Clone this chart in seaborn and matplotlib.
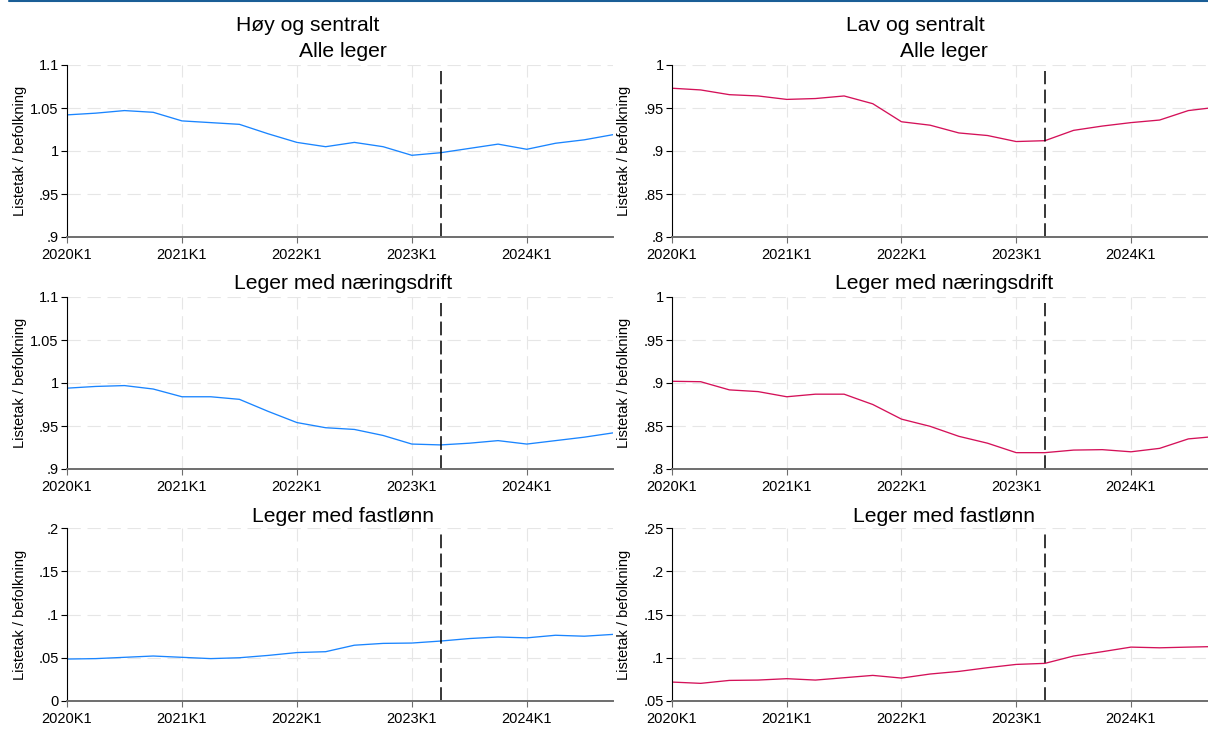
import matplotlib
matplotlib.use("Agg")
import matplotlib.pyplot as plt
import seaborn as sns
import pandas as pd
from matplotlib.lines import Line2D
from matplotlib.ticker import FixedLocator, FuncFormatter

# ---------------- data ----------------
quarters = [f"{y}K{q}" for y in range(2020, 2025) for q in range(1, 5)]
tick_labels = ["2020K1", "2021K1", "2022K1", "2023K1", "2024K1"]

hoy_alle = [1.042, 1.044, 1.047, 1.045, 1.035, 1.033, 1.031, 1.020, 1.010, 1.005,
            1.010, 1.005, 0.995, 0.998, 1.003, 1.008, 1.002, 1.009, 1.013, 1.019]
hoy_naering = [0.994, 0.996, 0.997, 0.993, 0.984, 0.984, 0.981, 0.967, 0.954, 0.948,
               0.946, 0.939, 0.929, 0.928, 0.930, 0.933, 0.929, 0.933, 0.937, 0.942]
hoy_fast = [0.0485, 0.049, 0.0505, 0.052, 0.0505, 0.049, 0.050, 0.0527, 0.056, 0.057,
            0.0645, 0.0666, 0.067, 0.0693, 0.0722, 0.074, 0.073, 0.076, 0.0749, 0.077]

lav_alle = [0.973, 0.971, 0.9655, 0.964, 0.960, 0.961, 0.964, 0.955, 0.934, 0.930,
            0.921, 0.918, 0.911, 0.912, 0.924, 0.929, 0.933, 0.936, 0.947, 0.951]
lav_naering = [0.902, 0.9015, 0.892, 0.890, 0.884, 0.887, 0.887, 0.875, 0.858, 0.8496,
               0.838, 0.830, 0.819, 0.819, 0.822, 0.8225, 0.820, 0.824, 0.835, 0.838]
lav_fast = [0.0719, 0.0704, 0.0738, 0.0742, 0.0758, 0.0742, 0.0769, 0.0796, 0.0765, 0.0812,
            0.0842, 0.0885, 0.0923, 0.0935, 0.102, 0.107, 0.1123, 0.1115, 0.1123, 0.113]

reform_quarter = "2023K2"

col_titles = ["Høy og sentralt", "Lav og sentralt"]
row_titles = ["Alle leger", "Leger med næringsdrift", "Leger med fastlønn"]
ylabel = "Listetak / befolkning"

left_yticks = [[0.9, 0.95, 1.0, 1.05, 1.1], [0.9, 0.95, 1.0, 1.05, 1.1], [0, 0.05, 0.1, 0.15, 0.2]]
right_yticks = [[0.8, 0.85, 0.9, 0.95, 1.0], [0.8, 0.85, 0.9, 0.95, 1.0], [0.05, 0.1, 0.15, 0.2, 0.25]]

BLUE = "#1A85FF"
RED = "#D41159"

# ---------------- style ----------------
sns.set_theme(style="white")
plt.rcParams["font.family"] = ["Liberation Sans", "DejaVu Sans"]

W, H = 1208, 737
fig = plt.figure(figsize=(W / 100, H / 100), dpi=100)
fig.patch.set_facecolor("white")

def fmt(v, pos=None):
    s = f"{v:.2f}".rstrip("0").rstrip(".")
    if s.startswith("0.") and len(s) > 2:
        s = s[1:]
    return s

rows_px = [(65, 237), (297, 469), (528, 701)]
left_px = (67, 613)
right_px = (672, 1208)
q_idx = list(range(len(quarters)))
reform_idx = quarters.index(reform_quarter)
tick_pos = [quarters.index(t) for t in tick_labels]

data = {
    0: [hoy_alle, hoy_naering, hoy_fast],
    1: [lav_alle, lav_naering, lav_fast],
}

for c in range(2):
    x0, x1 = left_px if c == 0 else right_px
    color = BLUE if c == 0 else RED
    for r in range(3):
        yt, yb = rows_px[r]
        ax = fig.add_axes([x0 / W, 1 - yb / H, (x1 - x0) / W, (yb - yt) / H])
        df = pd.DataFrame({"q": q_idx, "v": data[c][r]})
        sns.lineplot(data=df, x="q", y="v", ax=ax, color=color, linewidth=0.95)
        ticks = left_yticks[r] if c == 0 else right_yticks[r]
        ax.set_ylim(ticks[0], ticks[-1])
        if c == 0:
            ax.set_xlim(0, 19)
        else:
            ax.set_xlim(0, 19 * (x1 - x0) / (1217 - x0))
        ax.yaxis.set_major_locator(FixedLocator(ticks))
        ax.yaxis.set_major_formatter(FuncFormatter(fmt))
        ax.set_xticks(tick_pos)
        ax.set_xticklabels(tick_labels)
        ax.set_xlabel("")
        ax.set_ylabel("")
        ax.grid(True, color="#e6e6e6", linewidth=0.8, linestyle=(0, (12, 6)))
        ax.set_axisbelow(True)
        for s in ["top", "right"]:
            ax.spines[s].set_visible(False)
        ax.spines["left"].set_color("black")
        ax.spines["left"].set_linewidth(0.8)
        ax.spines["bottom"].set_color("#6e6e6e")
        ax.spines["bottom"].set_linewidth(1.4)
        ax.tick_params(axis="y", which="major", length=4, width=0.8, color="black",
                       labelsize=10.5, labelcolor="black", pad=2, left=True)
        ax.tick_params(axis="x", which="major", length=4, width=0.8, color="#6e6e6e",
                       labelsize=10.5, labelcolor="black", pad=4, bottom=True)
        ax.axvline(reform_idx, ymin=0, ymax=0.968, color="black", linewidth=1.1,
                   dashes=(9, 3.5))
        ax.patch.set_alpha(0)
        # y label
        xl = 20 if c == 0 else 624
        fig.text(xl / W, 1 - ((yt + yb) / 2) / H, ylabel, rotation=90,
                 ha="center", va="center", fontsize=10.5, color="black")
        # row titles
        cx = 343 if c == 0 else 944
        base = [57, 289, 522][r]
        fig.text(cx / W, 1 - base / H, row_titles[r], ha="center", va="baseline",
                 fontsize=15.2, color="black")
    tx = 308 if c == 0 else 915
    fig.text(tx / W, 1 - 31 / H, col_titles[c], ha="center", va="baseline",
             fontsize=15.2, color="black")

fig.add_artist(Line2D([9 / W, 1], [1 - 0.8 / H, 1 - 0.8 / H], color="#1A5E96",
                      linewidth=1.5, transform=fig.transFigure))

fig.savefig("out.png", dpi=100, facecolor="white")
